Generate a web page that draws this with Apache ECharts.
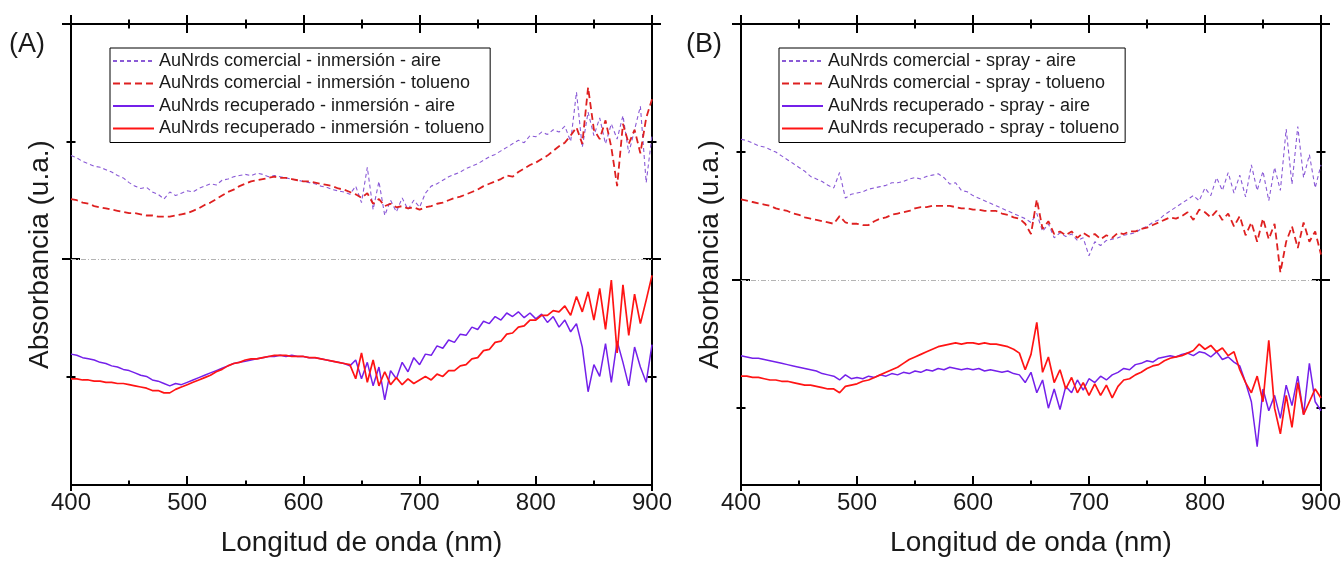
<!DOCTYPE html>
<html>
<head>
<meta charset="utf-8">
<title>Absorbancia AuNrds</title>
<script src="https://cdn.jsdelivr.net/npm/echarts@6/dist/echarts.min.js"></script>
<style>
  html, body { margin: 0; padding: 0; background: #fff; }
  #chart { width: 1344px; height: 562px; }
</style>
</head>
<body>
<div id="chart"></div>
<script>
// Sampling grid of the spectra (nm), every 5 nm from 400 to 900
const WAVELENGTHS = Array.from({ length: 101 }, (_, i) => 400 + 5 * i);

const X_TICKS = [400, 500, 600, 700, 800, 900];

// Panel (A): inmersión
const A_COM_AIRE = [
  2.88, 2.86, 2.83, 2.81, 2.79, 2.78, 2.76, 2.74, 2.71, 2.69,
  2.65, 2.62, 2.60, 2.61, 2.57, 2.55, 2.51, 2.57, 2.54, 2.56,
  2.58, 2.57, 2.60, 2.62, 2.64, 2.63, 2.67, 2.68, 2.70, 2.71,
  2.72, 2.71, 2.73, 2.72, 2.70, 2.71, 2.70, 2.69, 2.68, 2.67,
  2.66, 2.65, 2.64, 2.62, 2.61, 2.59, 2.58, 2.57, 2.55, 2.62,
  2.48, 2.78, 2.42, 2.66, 2.37, 2.50, 2.40, 2.52, 2.42, 2.50,
  2.44, 2.56, 2.62, 2.64, 2.67, 2.70, 2.72, 2.74, 2.77, 2.79,
  2.81, 2.84, 2.87, 2.89, 2.92, 2.95, 2.98, 3.01, 2.99, 3.05,
  3.04, 3.08, 3.06, 3.10, 3.08, 3.13, 3.00, 3.42, 2.95, 3.25,
  3.05, 3.20, 2.98, 3.15, 3.02, 3.22, 2.90, 3.10, 3.30, 2.65,
  3.05
];
const A_COM_TOL = [
  2.51, 2.50, 2.48, 2.47, 2.45, 2.44, 2.43, 2.42, 2.41, 2.40,
  2.39, 2.39, 2.38, 2.37, 2.37, 2.36, 2.36, 2.36, 2.37, 2.38,
  2.39, 2.41, 2.43, 2.46, 2.48, 2.51, 2.54, 2.57, 2.59, 2.62,
  2.64, 2.66, 2.67, 2.68, 2.69, 2.70, 2.69, 2.69, 2.68, 2.67,
  2.66, 2.66, 2.65, 2.64, 2.63, 2.62, 2.60, 2.59, 2.57, 2.55,
  2.52, 2.56, 2.47, 2.51, 2.45, 2.47, 2.44, 2.45, 2.43, 2.44,
  2.42, 2.44, 2.45, 2.47, 2.48, 2.50, 2.52, 2.53, 2.55, 2.57,
  2.59, 2.62, 2.64, 2.66, 2.68, 2.71, 2.70, 2.74, 2.77, 2.80,
  2.82, 2.85, 2.88, 2.92, 2.96, 2.99, 3.05, 3.12, 2.98, 3.46,
  3.10, 3.02, 3.18, 2.95, 2.62, 3.15, 2.98, 3.10, 2.90, 3.20,
  3.36
];
const A_REC_AIRE = [
  1.19, 1.18, 1.16, 1.15, 1.14, 1.12, 1.11, 1.09, 1.08, 1.06,
  1.05, 1.03, 1.01, 1.00, 0.97, 0.96, 0.94, 0.92, 0.94, 0.93,
  0.95, 0.97, 0.99, 1.01, 1.03, 1.05, 1.07, 1.09, 1.11, 1.12,
  1.13, 1.14, 1.15, 1.16, 1.17, 1.17, 1.18, 1.17, 1.18, 1.17,
  1.17, 1.16, 1.16, 1.15, 1.14, 1.13, 1.12, 1.11, 1.09, 1.14,
  0.98, 1.12, 0.92, 1.08, 0.80, 1.05, 0.98, 1.12, 1.04, 1.16,
  1.10, 1.19, 1.18, 1.26, 1.24, 1.31, 1.29, 1.36, 1.35, 1.42,
  1.40, 1.47, 1.45, 1.51, 1.48, 1.54, 1.51, 1.55, 1.50, 1.54,
  1.49, 1.53, 1.46, 1.51, 1.42, 1.48, 1.38, 1.45, 1.25, 0.87,
  1.10, 1.00, 1.28, 0.95, 1.30, 1.12, 0.92, 1.25, 1.08, 0.95,
  1.27
];
const A_REC_TOL = [
  0.98, 0.98, 0.97, 0.97, 0.96, 0.96, 0.95, 0.95, 0.94, 0.94,
  0.93, 0.92, 0.91, 0.90, 0.88, 0.88, 0.86, 0.86, 0.89, 0.91,
  0.93, 0.95, 0.97, 0.99, 1.01, 1.04, 1.06, 1.09, 1.11, 1.12,
  1.14, 1.15, 1.15, 1.16, 1.17, 1.18, 1.18, 1.18, 1.17, 1.17,
  1.17, 1.16, 1.16, 1.15, 1.14, 1.13, 1.12, 1.11, 1.10, 0.98,
  1.20, 0.95, 1.14, 0.92, 1.04, 0.93, 0.99, 0.93, 0.98, 0.94,
  0.97, 1.00, 0.97, 1.02, 1.00, 1.05, 1.05, 1.09, 1.10, 1.15,
  1.16, 1.22, 1.23, 1.29, 1.30, 1.36, 1.37, 1.42, 1.43, 1.48,
  1.48, 1.52, 1.52, 1.56, 1.55, 1.60, 1.52, 1.68, 1.55, 1.72,
  1.48, 1.75, 1.40, 1.82, 1.20, 1.78, 1.35, 1.70, 1.45, 1.65,
  1.86
];

// Panel (B): spray
const B_COM_AIRE = [
  3.10, 3.09, 3.07, 3.05, 3.04, 3.02, 3.00, 2.97, 2.94, 2.91,
  2.88, 2.85, 2.81, 2.79, 2.77, 2.74, 2.72, 2.84, 2.64, 2.67,
  2.68, 2.69, 2.71, 2.72, 2.73, 2.74, 2.76, 2.76, 2.77, 2.79,
  2.80, 2.79, 2.81, 2.82, 2.83, 2.80, 2.75, 2.76, 2.70, 2.69,
  2.66, 2.64, 2.62, 2.60, 2.58, 2.56, 2.54, 2.52, 2.50, 2.48,
  2.45, 2.52, 2.38, 2.44, 2.33, 2.37, 2.34, 2.36, 2.31, 2.33,
  2.19, 2.30, 2.27, 2.31, 2.32, 2.33, 2.35, 2.36, 2.37, 2.40,
  2.42, 2.45, 2.47, 2.51, 2.54, 2.57, 2.60, 2.63, 2.66, 2.62,
  2.72, 2.66, 2.80, 2.70, 2.84, 2.68, 2.82, 2.65, 2.90, 2.70,
  2.85, 2.62, 2.88, 2.70, 3.18, 2.75, 3.20, 2.80, 2.98, 2.72,
  2.90
];
const B_COM_TOL = [
  2.63, 2.62, 2.61, 2.60, 2.59, 2.58, 2.56, 2.55, 2.54, 2.52,
  2.51, 2.49, 2.48, 2.47, 2.46, 2.45, 2.44, 2.50, 2.45, 2.44,
  2.44, 2.43, 2.43, 2.46, 2.48, 2.49, 2.51, 2.52, 2.53, 2.54,
  2.56, 2.57, 2.57, 2.58, 2.58, 2.58, 2.58, 2.57, 2.56, 2.56,
  2.55, 2.55, 2.54, 2.54, 2.54, 2.52, 2.51, 2.49, 2.48, 2.44,
  2.36, 2.63, 2.40, 2.46, 2.36, 2.38, 2.35, 2.38, 2.33, 2.37,
  2.34, 2.36, 2.32, 2.35, 2.33, 2.37, 2.36, 2.38, 2.38, 2.40,
  2.41, 2.43, 2.45, 2.47, 2.49, 2.48, 2.50, 2.53, 2.47, 2.55,
  2.53, 2.49, 2.54, 2.47, 2.52, 2.42, 2.50, 2.35, 2.45, 2.30,
  2.48, 2.32, 2.44, 2.06, 2.30, 2.42, 2.25, 2.45, 2.30, 2.38,
  2.20
];
const B_REC_AIRE = [
  1.41, 1.40, 1.39, 1.39, 1.38, 1.37, 1.36, 1.35, 1.34, 1.33,
  1.32, 1.31, 1.30, 1.29, 1.27, 1.26, 1.25, 1.22, 1.26, 1.23,
  1.24, 1.23, 1.25, 1.24, 1.26, 1.25, 1.27, 1.26, 1.28, 1.27,
  1.29, 1.28, 1.30, 1.29, 1.31, 1.30, 1.32, 1.31, 1.30, 1.31,
  1.30, 1.31, 1.29, 1.30, 1.29, 1.28, 1.29, 1.27, 1.26, 1.20,
  1.28, 1.12, 1.22, 1.00, 1.15, 0.99, 1.17, 1.12, 1.22, 1.14,
  1.23, 1.20, 1.25, 1.22, 1.26, 1.28, 1.31, 1.30, 1.34, 1.35,
  1.37, 1.36, 1.39, 1.40, 1.41, 1.40, 1.42, 1.43, 1.41, 1.44,
  1.43, 1.40, 1.44, 1.38, 1.40, 1.36, 1.33, 1.20, 1.05, 0.70,
  1.15, 0.98, 1.10, 0.92, 1.18, 1.02, 1.25, 0.95, 1.35, 1.05,
  0.98
];
const B_REC_TOL = [
  1.25, 1.25, 1.24, 1.24, 1.23, 1.22, 1.22, 1.21, 1.21, 1.20,
  1.19, 1.18, 1.18, 1.17, 1.16, 1.15, 1.15, 1.12, 1.17, 1.18,
  1.19, 1.21, 1.22, 1.24, 1.26, 1.28, 1.30, 1.32, 1.35, 1.38,
  1.40, 1.42, 1.44, 1.46, 1.48, 1.49, 1.50, 1.51, 1.50, 1.51,
  1.51, 1.50, 1.51, 1.50, 1.50, 1.49, 1.48, 1.46, 1.43, 1.30,
  1.42, 1.67, 1.28, 1.40, 1.20, 1.30, 1.15, 1.24, 1.12, 1.20,
  1.10, 1.19, 1.10, 1.18, 1.08, 1.17, 1.22, 1.23, 1.26, 1.28,
  1.31, 1.33, 1.34, 1.37, 1.39, 1.40, 1.41, 1.43, 1.45, 1.50,
  1.46, 1.49, 1.44, 1.47, 1.41, 1.44, 1.30, 1.20, 1.12, 1.25,
  1.05, 1.53, 1.00, 0.80, 1.10, 0.85, 1.20, 0.95, 1.05, 1.15,
  1.08
];

// Y ranges of each panel (arbitrary units) and their tick positions
const Y_MIN_A = 0.076;
const Y_MIN_B = 0.40;
const Y_MAX = 4;
const Y_MAJOR = [2, 4];
const Y_MINOR = [1, 3];
const BASELINE = 2;

const PANELS = [
  {
    label: '(A)', yMin: Y_MIN_A,
    names: [
      'AuNrds comercial - inmersión - aire',
      'AuNrds comercial - inmersión - tolueno',
      'AuNrds recuperado - inmersión - aire',
      'AuNrds recuperado - inmersión - tolueno'
    ],
    values: [A_COM_AIRE, A_COM_TOL, A_REC_AIRE, A_REC_TOL]
  },
  {
    label: '(B)', yMin: Y_MIN_B,
    names: [
      'AuNrds comercial - spray - aire',
      'AuNrds comercial - spray - tolueno',
      'AuNrds recuperado - spray - aire',
      'AuNrds recuperado - spray - tolueno'
    ],
    values: [B_COM_AIRE, B_COM_TOL, B_REC_AIRE, B_REC_TOL]
  }
];

const FONT = "'Liberation Sans', Arial, sans-serif";
const INK = '#1a1a1a';

const LINE_STYLES = [
  { color: '#8a5ad6', width: 1.1, type: [4, 3] },
  { color: '#de2020', width: 1.8, type: [7, 4] },
  { color: '#7420ea', width: 1.5, type: 'solid' },
  { color: '#ff1414', width: 1.7, type: 'solid' }
];

const GRIDS = [
  { left: 71, right: 692, top: 24, bottom: 75 },
  { left: 741, right: 22, top: 24, bottom: 75 }
];

const xAxes = [];
const yAxes = [];
const series = [];
const legends = [];
const graphics = [];

const axisLine = { show: true, lineStyle: { color: '#000', width: 2 } };
const noLine = { show: false };
const tickStyle = { color: '#000', width: 2 };

PANELS.forEach((p, g) => {
  const xBase = xAxes.length;
  const yBase = yAxes.length;
  const xCommon = { type: 'value', gridIndex: g, min: 400, max: 900, interval: 100, splitLine: { show: false } };

  // bottom axis: labels, name, inward ticks
  xAxes.push(Object.assign({}, xCommon, {
    position: 'bottom',
    axisLine: axisLine,
    axisTick: { show: true, inside: true, length: 9, lineStyle: tickStyle },
    minorTick: { show: true, splitNumber: 2, length: 4.5, lineStyle: tickStyle },
    axisLabel: { show: true, margin: 6, fontSize: 24, color: INK, fontFamily: FONT, customValues: X_TICKS },
    name: 'Longitud de onda (nm)',
    nameLocation: 'middle',
    nameGap: 44,
    nameTextStyle: { fontSize: 28, color: INK, fontFamily: FONT }
  }));
  // small outward stubs at both ends of the bottom axis
  xAxes.push(Object.assign({}, xCommon, {
    position: 'bottom', axisLine: noLine, axisLabel: { show: false },
    axisTick: { show: true, inside: false, length: 6, lineStyle: tickStyle, customValues: [400, 900] }
  }));
  // top axis: crossing ticks (outward + inward)
  xAxes.push(Object.assign({}, xCommon, {
    position: 'top', axisLine: axisLine, axisLabel: { show: false },
    axisTick: { show: true, inside: false, length: 9, lineStyle: tickStyle },
    minorTick: { show: true, splitNumber: 2, length: 4.5, lineStyle: tickStyle }
  }));
  xAxes.push(Object.assign({}, xCommon, {
    position: 'top', axisLine: noLine, axisLabel: { show: false },
    axisTick: { show: true, inside: true, length: 9, lineStyle: tickStyle },
    minorTick: { show: true, splitNumber: 2, length: 4.5, lineStyle: tickStyle }
  }));

  const yCommon = { type: 'value', gridIndex: g, min: p.yMin, max: Y_MAX, splitLine: { show: false }, axisLabel: { show: false } };
  ['left', 'right'].forEach(side => {
    [false, true].forEach(inside => {
      yAxes.push(Object.assign({}, yCommon, {
        position: side,
        axisLine: inside ? noLine : axisLine,
        axisTick: { show: true, inside: inside, length: 9, lineStyle: tickStyle, customValues: Y_MAJOR }
      }));
      yAxes.push(Object.assign({}, yCommon, {
        position: side,
        axisLine: noLine,
        axisTick: { show: true, inside: inside, length: 4.5, lineStyle: tickStyle, customValues: Y_MINOR }
      }));
    });
  });
  // axis title on the main left axis
  Object.assign(yAxes[yBase], {
    name: 'Absorbancia (u.a.)',
    nameLocation: 'middle',
    nameGap: 17,
    nameTextStyle: { fontSize: 28, color: INK, fontFamily: FONT }
  });

  p.names.forEach((name, k) => {
    const s = {
      name: name,
      type: 'line',
      xAxisIndex: xBase,
      yAxisIndex: yBase,
      showSymbol: false,
      symbol: 'none',
      silent: true,
      z: 2 + k,
      lineStyle: LINE_STYLES[k],
      itemStyle: { color: LINE_STYLES[k].color },
      data: WAVELENGTHS.map((w, i) => [w, p.values[k][i]])
    };
    if (k === 0) {
      s.markLine = {
        silent: true,
        symbol: 'none',
        label: { show: false },
        lineStyle: { color: '#b4b4b4', width: 1.2, type: [5, 2, 1, 2] },
        data: [{ yAxis: BASELINE }]
      };
    }
    series.push(s);
  });

  legends.push({
    data: p.names,
    orient: 'vertical',
    left: g === 0 ? 110 : 779,
    top: 48,
    itemWidth: 41,
    itemHeight: 14,
    itemGap: 4.5,
    padding: [4, 6, 5, 2],
    borderColor: '#000',
    borderWidth: 1,
    backgroundColor: '#fff',
    selectedMode: false,
    // line samples only, no marker dot
    itemStyle: { opacity: 0 },
    textStyle: { fontSize: 18, color: INK, fontFamily: FONT }
  });

  graphics.push({
    type: 'text',
    left: g === 0 ? 9 : 686,
    top: 31,
    style: { text: p.label, fontSize: 27, fill: INK, fontFamily: FONT }
  });
});

const chart = echarts.init(document.getElementById('chart'), null, { renderer: 'canvas' });
chart.setOption({
  animation: false,
  backgroundColor: '#fff',
  grid: GRIDS,
  xAxis: xAxes,
  yAxis: yAxes,
  legend: legends,
  graphic: graphics,
  series: series
});
</script>
</body>
</html>
